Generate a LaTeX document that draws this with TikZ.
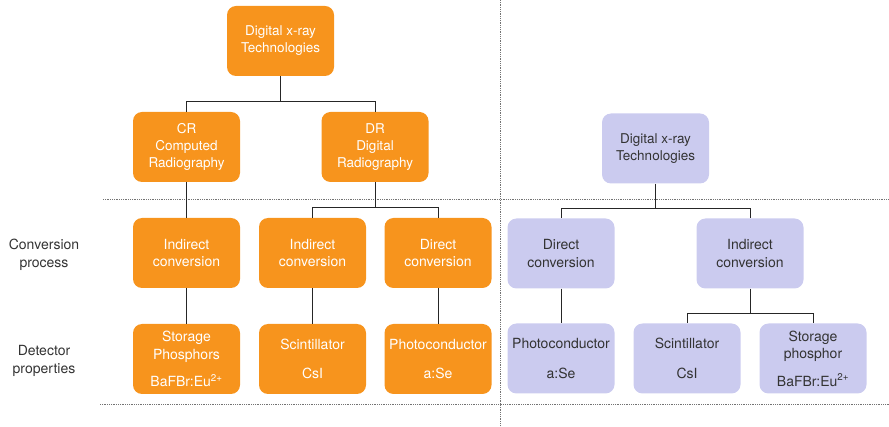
\documentclass[tikz,border=0pt]{standalone}
\usepackage{fontspec}
\setmainfont{TeX Gyre Heros}
\definecolor{orng}{HTML}{F7941D}
\definecolor{lav}{HTML}{CBCBEF}
\definecolor{txt}{HTML}{333333}
\begin{document}
\begin{tikzpicture}[x=1pt,y=-1pt,
  obox/.style={fill=orng,text=white,rounded corners=9pt,minimum width=107pt,minimum height=70pt,align=center,inner sep=0pt,font=\fontsize{14}{17.5}\selectfont},
  lbox/.style={fill=lav,text=txt,rounded corners=9pt,minimum width=107pt,minimum height=70pt,align=center,inner sep=0pt,font=\fontsize{14}{17.5}\selectfont},
  conn/.style={draw=black!85,line width=0.9pt},
  sep/.style={draw=black!55,densely dotted,line width=0.8pt},
  lab/.style={text=txt,align=center,font=\fontsize{14}{17.5}\selectfont}]
\useasboundingbox (0,0) rectangle (889,427);
% separators
\draw[sep] (103,199) -- (889,199);
\draw[sep] (100,404) -- (889,404);
\draw[sep] (500,0) -- (500,427);
% left tree
\node[obox,font=\fontsize{13.5}{17}\selectfont] (t) at (280.5,41) {Digital x-ray\\Technologies};
\node[obox,font=\fontsize{13.5}{17}\selectfont] (cr) at (186.5,147) {CR\\Computed\\Radiography};
\node[obox,font=\fontsize{13.5}{17}\selectfont] (dr) at (375,147) {DR\\Digital\\Radiography};
\node[obox] (i1) at (186.5,253) {Indirect\\conversion};
\node[obox] (i2) at (312.5,253) {Indirect\\conversion};
\node[obox] (d1) at (438,253) {Direct\\conversion};
\node[obox] (s1) at (186.5,359) {Storage\\Phosphors\\[10pt]BaFBr:Eu\textsuperscript{2+}};
\node[obox] (s2) at (312.5,359) {Scintillator\\[12pt]CsI};
\node[obox] (s3) at (438,359) {Photoconductor\\[12pt]a:Se};
\coordinate (j1) at (280.5,101);
\coordinate (j2) at (375,207);
\draw[conn] (t.south) -- (j1) -| (cr.north);
\draw[conn] (j1) -| (dr.north);
\draw[conn] (cr.south) -- (i1.north);
\draw[conn] (dr.south) -- (j2) -| (i2.north);
\draw[conn] (j2) -| (d1.north);
\draw[conn] (i1.south) -- (s1.north);
\draw[conn] (i2.south) -- (s2.north);
\draw[conn] (d1.south) -- (s3.north);
% labels
\node[lab] (lc) at (44,255) {Conversion\\process};
\node[lab] (ld) at (44,361) {Detector\\properties};
% right tree
\node[lbox,font=\fontsize{13.5}{17}\selectfont] (rt) at (655.5,148.5) {Digital x-ray\\Technologies};
\node[lbox] (rd) at (561,253.5) {Direct\\conversion};
\node[lbox] (ri) at (750,253.5) {Indirect\\conversion};
\node[lbox] (rp) at (561,358.5) {Photoconductor\\[12pt]a:Se};
\node[lbox] (rs) at (687,358.5) {Scintillator\\[12pt]CsI};
\node[lbox] (rg) at (813,358.5) {Storage\\phosphor\\[10pt]BaFBr:Eu\textsuperscript{2+}};
\coordinate (j3) at (655.5,208);
\coordinate (j4) at (750,313);
\draw[conn] (rt.south) -- (j3) -| (rd.north);
\draw[conn] (j3) -| (ri.north);
\draw[conn] (rd.south) -- (rp.north);
\draw[conn] (ri.south) -- (j4) -| (rs.north);
\draw[conn] (j4) -| (rg.north);
\end{tikzpicture}
\end{document}
